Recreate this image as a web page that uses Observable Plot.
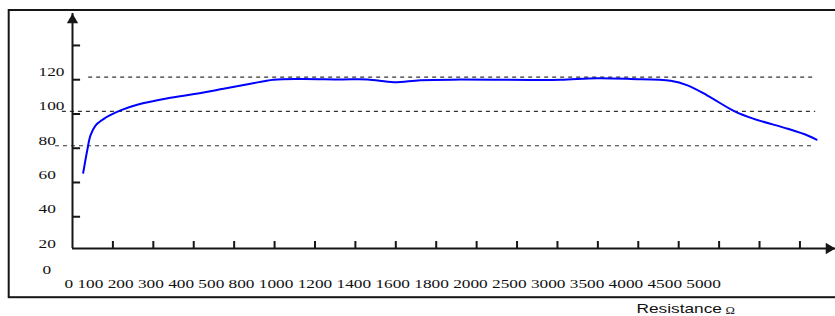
<!DOCTYPE html>
<html><head><meta charset="utf-8">
<script src="https://cdn.jsdelivr.net/npm/d3@7"></script>
<script src="https://cdn.jsdelivr.net/npm/@observablehq/plot@0.6"></script>
<style>body{margin:0;background:#fff}</style>
</head><body><div id="chart"></div>
<script>
// Category labels printed under the x axis
const xCategoryLabels = ["0","100","200","300","400","500","800","1000","1200","1400","1600","1800","2000","2500","3000","3500","4000","4500","5000"];
// y tick labels printed at the left
const yTickLabels = [20, 40, 60, 80, 100, 120];
const yZeroLabel = [0];
// tick marks on the axes
const yTickValues = [40, 60, 80, 100, 120, 140];
const xTickSlots = [1,2,3,4,5,6,7,8,9,10,11,12,13,14,15,16,17,18];
// dashed reference levels
const referenceLevels = [120, 100, 80];
// curve (position along the x axis in tick slots, value)
const curvePosition = [0.265,0.364,0.445,0.569,0.775,1.188,1.601,2.425,3.242,3.737,4.405,4.974,5.642,6.632,7.30,7.95,8.61,9.60,11.33,12.08,12.99,13.81,14.80,15.22,15.71,16.36,16.86,17.70,18.19,18.41];
const curveValue    = [64.2,77.2,86.0,91.8,95.7,100.6,103.9,108.0,111.1,113.3,116.2,118.5,119.0,118.7,118.7,117.1,118.3,118.6,118.4,118.5,119.4,119.0,117.9,115.2,109.3,100.4,95.7,89.9,86.0,83.5];
const axisTitle = "Resistance";
const axisUnit = "\u03A9";

const ink = "#161616";
const dashStart = {120: 0.40, 100: -0.25, 80: -0.42};
const dashEnd = {120: 18.34, 100: 18.39, 80: 18.32};
const idx = curvePosition.map((_, i) => i);

const chart = Plot.plot({
  width: 835,
  height: 316,
  marginLeft: 72,
  marginRight: 0,
  marginTop: 13,
  marginBottom: 68,
  style: "font-family: 'Liberation Serif', serif; font-size: 13px; background: white; overflow: visible;",
  x: {domain: [0, 18.88], axis: null},
  y: {domain: [20, 157.2], axis: null},
  marks: [
    Plot.frame({stroke: ink, strokeWidth: 2, insetLeft: -63.8, insetTop: -3.5, insetBottom: -48.7, insetRight: -10}),
    Plot.ruleY(referenceLevels, {y: d => d, x1: d => dashStart[d], x2: d => dashEnd[d], stroke: "#333", strokeWidth: 1.2, strokeDasharray: "4,4"}),
    Plot.ruleX([0], {x: d => d, stroke: ink, strokeWidth: 2}),
    Plot.ruleY([20], {y: d => d, stroke: ink, strokeWidth: 2}),
    Plot.ruleY(yTickValues, {y: d => d, x1: 0, x2: 0.2, dy: 2.5, stroke: ink, strokeWidth: 2}),
    Plot.ruleX(xTickSlots, {x: d => d, y1: 20, y2: 24.1, stroke: ink, strokeWidth: 2}),
    Plot.dot([0], {x: d => d, frameAnchor: "top", dy: 6.5, symbol: "triangle", r: 4.2, fill: ink, stroke: "none"}),
    Plot.dot([20], {y: d => d, frameAnchor: "right", dx: -6.5, rotate: 90, symbol: "triangle", r: 4.2, fill: ink, stroke: "none"}),
    Plot.line(idx, {x: i => curvePosition[i], y: i => curveValue[i], stroke: "#0000ff", strokeWidth: 2, curve: "catmull-rom"}),
    Plot.text(yTickLabels, {y: d => d, text: d => String(d), frameAnchor: "left", dx: -34, dy: -1, textAnchor: "start", lineAnchor: "bottom", fill: "#111"}),
    Plot.text(yZeroLabel, {y: d => d, text: d => String(d), frameAnchor: "left", dx: -30, dy: -9, textAnchor: "start", lineAnchor: "bottom", fill: "#111"}),
    Plot.text([xCategoryLabels.join(" ")], {frameAnchor: "bottom-left", dx: -8, dy: 39.7, textAnchor: "start", lineAnchor: "bottom", fill: "#111"}),
    Plot.text([axisTitle], {frameAnchor: "bottom-left", dx: 564, dy: 64.3, textAnchor: "start", lineAnchor: "bottom", fontFamily: "'Liberation Sans', Arial, sans-serif", fontSize: 13, fill: "#111"}),
    Plot.text([axisUnit], {frameAnchor: "bottom-left", dx: 653, dy: 65, textAnchor: "start", lineAnchor: "bottom", fontFamily: "'Liberation Serif', serif", fontSize: 9.5, fill: "#111"})
  ]
});
// the reference's lettering is stretched horizontally; reproduce that stretch
d3.select(chart).selectAll("text").each(function () {
  const t = d3.select(this);
  const x = t.attr("x"), y = t.attr("y");
  let tr = t.attr("transform") || "";
  if (x != null || y != null) {
    tr += ` translate(${x || 0},${y || 0})`;
    t.attr("x", null).attr("y", null);
  }
  t.attr("transform", tr + " scale(1.33,1)");
});
document.getElementById("chart").appendChild(chart);
</script>
</body></html>
